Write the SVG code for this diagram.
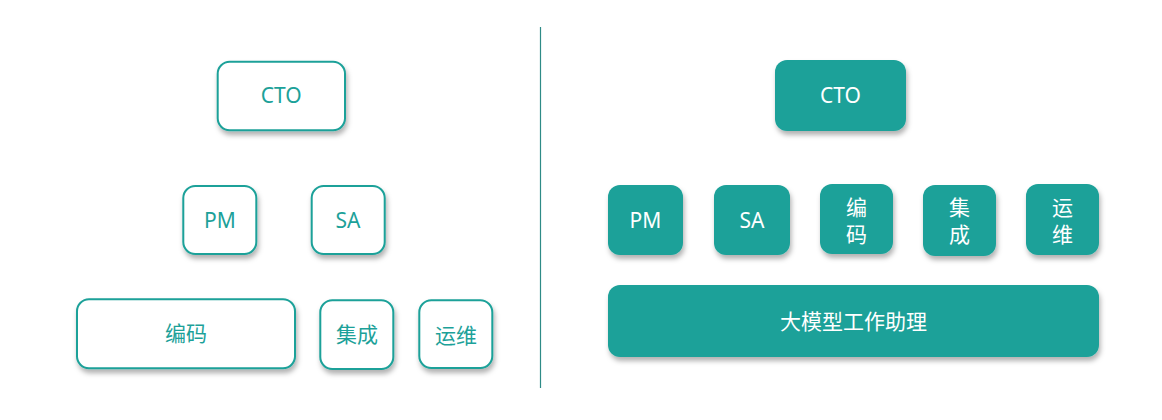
<svg xmlns="http://www.w3.org/2000/svg" width="1162" height="420" viewBox="0 0 1162 420">
<defs>
<filter id="sh" x="-20%" y="-20%" width="140%" height="150%">
<feDropShadow dx="1.5" dy="4" stdDeviation="2.5" flood-color="#000" flood-opacity="0.3"/>
</filter>
</defs>
<style>
.o{fill:#fff;stroke:#1ca199;stroke-width:2;filter:url(#sh)}
.f{fill:#1ca199;filter:url(#sh)}
text{font-family:"Noto Sans","Noto Sans CJK SC",sans-serif;font-size:21px;text-anchor:middle}
.to{fill:#1ca199}
.tf{fill:#fff}
</style>
<rect width="1162" height="420" fill="#fff"/>
<g id="divider">
<line x1="540.5" y1="27" x2="540.5" y2="388" stroke="#2e8b87" stroke-width="1.2"/>
</g>
<g id="l-cto"><rect class="o" x="217.7" y="61.7" width="127.3" height="68.5" rx="12"/><text class="to" x="281.3" y="103">CTO</text></g>
<g id="l-pm"><rect class="o" x="183.3" y="186" width="73" height="68" rx="12"/><text class="to" x="220" y="228">PM</text></g>
<g id="l-sa"><rect class="o" x="311.7" y="186" width="73" height="68" rx="12"/><text class="to" x="348" y="228">SA</text></g>
<g id="l-code"><rect class="o" x="77" y="299.3" width="218" height="69" rx="12"/><text class="to" x="186" y="341">编码</text></g>
<g id="l-int"><rect class="o" x="320.3" y="300.3" width="73" height="68.7" rx="12"/><text class="to" x="357" y="342">集成</text></g>
<g id="l-ops"><rect class="o" x="419.3" y="300.3" width="73" height="67.7" rx="12"/><text class="to" x="456" y="342.5">运维</text></g>

<g id="r-cto"><rect class="f" x="775" y="60" width="131" height="71" rx="12"/><text class="tf" x="840.5" y="102.5">CTO</text></g>
<g id="r-pm"><rect class="f" x="608" y="185" width="75" height="70" rx="12"/><text class="tf" x="645.5" y="228">PM</text></g>
<g id="r-sa"><rect class="f" x="714" y="185" width="76" height="70" rx="12"/><text class="tf" x="752" y="228">SA</text></g>
<g id="r-code"><rect class="f" x="820" y="184" width="73" height="70" rx="12"/><text class="tf" x="856.5" y="215">编</text><text class="tf" x="856.5" y="242">码</text></g>
<g id="r-int"><rect class="f" x="923" y="185" width="73" height="71" rx="12"/><text class="tf" x="959.5" y="215">集</text><text class="tf" x="959.5" y="242">成</text></g>
<g id="r-ops"><rect class="f" x="1026" y="184" width="73" height="71" rx="12"/><text class="tf" x="1062.5" y="215">运</text><text class="tf" x="1062.5" y="242">维</text></g>
<g id="r-llm"><rect class="f" x="608" y="285" width="491" height="72" rx="12"/><text class="tf" x="853.5" y="329">大模型工作助理</text></g>
<g id="connectors"></g>
</svg>
